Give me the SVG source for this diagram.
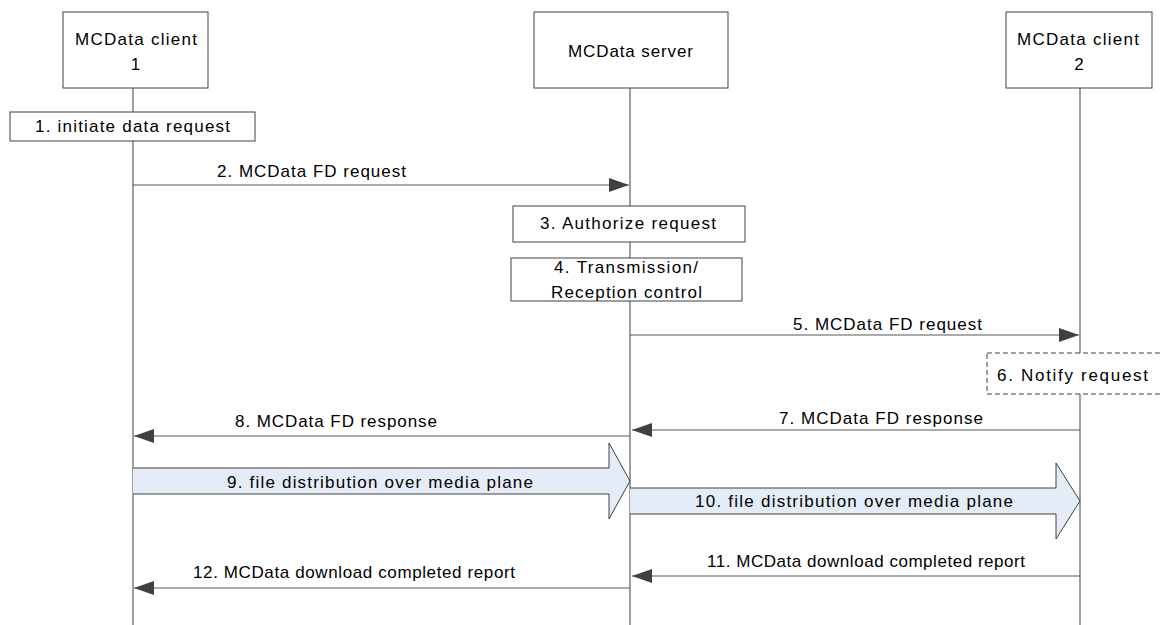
<svg xmlns="http://www.w3.org/2000/svg" width="1162" height="625" viewBox="0 0 1162 625">
<style>
text{font-family:"Liberation Sans",Arial,sans-serif;font-size:17px;fill:#000}
.box{fill:#fff;stroke:#404040;stroke-width:1}
.dbox{fill:#fff;stroke:#404040;stroke-width:1;stroke-dasharray:5,3}
.life{stroke:#7f7f7f;stroke-width:1.5;fill:none}
.msg{stroke:#595959;stroke-width:1.2;fill:none;marker-end:url(#ah)}
.blk{fill:#e4ecf7;stroke:#404040;stroke-width:1}
</style>
<defs>
<marker id="ah" markerUnits="userSpaceOnUse" markerWidth="20" markerHeight="14" refX="20" refY="7" orient="auto">
<path d="M0,0 L20,7 L0,14 z" fill="#404040"/>
</marker>
</defs>
<rect width="1162" height="625" fill="#fff"/>
<g id="lifelines">
<line class="life" x1="133" y1="88" x2="133" y2="625"/>
<line class="life" x1="630" y1="88" x2="630" y2="625"/>
<line class="life" x1="1080" y1="88" x2="1080" y2="625"/>
</g>
<g id="client1">
<rect class="box" x="63" y="12" width="145" height="76"/>
<text x="75" y="45" textLength="122" lengthAdjust="spacing">MCData client</text>
<text x="135.5" y="70" text-anchor="middle">1</text>
</g>
<g id="server">
<rect class="box" x="534" y="12" width="194" height="76"/>
<text x="568" y="57" textLength="125" lengthAdjust="spacing">MCData server</text>
</g>
<g id="client2">
<rect class="box" x="1006" y="12" width="146" height="76"/>
<text x="1017" y="45" textLength="122" lengthAdjust="spacing">MCData client</text>
<text x="1079" y="70" text-anchor="middle">2</text>
</g>
<g id="step1">
<rect class="box" x="10" y="112" width="245" height="29"/>
<text x="35" y="132" textLength="195" lengthAdjust="spacing">1. initiate data request</text>
</g>
<g id="step3">
<rect class="box" x="513" y="206" width="232" height="36"/>
<text x="540" y="229" textLength="176" lengthAdjust="spacing">3. Authorize request</text>
</g>
<g id="step4">
<rect class="box" x="511" y="258" width="231" height="43"/>
<text x="554" y="273" textLength="144" lengthAdjust="spacing">4. Transmission/</text>
<text x="551" y="298" textLength="151" lengthAdjust="spacing">Reception control</text>
</g>
<g id="step6">
<rect class="dbox" x="987" y="353" width="190" height="41"/>
<text x="997" y="381" textLength="151" lengthAdjust="spacing">6. Notify request</text>
</g>
<g id="connectors">
<line class="msg" x1="133" y1="185" x2="629" y2="185"/>
<text x="217" y="177" textLength="189" lengthAdjust="spacing">2. MCData FD request</text>
<line class="msg" x1="630" y1="335" x2="1079" y2="335"/>
<text x="793" y="330" textLength="189" lengthAdjust="spacing">5. MCData FD request</text>
<line class="msg" x1="1080" y1="430" x2="632" y2="430"/>
<text x="779" y="424" textLength="204" lengthAdjust="spacing">7. MCData FD response</text>
<line class="msg" x1="630" y1="436" x2="134" y2="436"/>
<text x="235" y="427" textLength="202" lengthAdjust="spacing">8. MCData FD response</text>
<path class="blk" d="M133,468 L609,468 L609,443 L630,481 L609,519 L609,494 L133,494"/>
<text x="227" y="488" textLength="306" lengthAdjust="spacing">9. file distribution over media plane</text>
<path class="blk" d="M630,488 L1056,488 L1056,463 L1080,501 L1056,539 L1056,514 L630,514"/>
<text x="695" y="507" textLength="318" lengthAdjust="spacing">10. file distribution over media plane</text>
<line class="msg" x1="1080" y1="576" x2="632" y2="576"/>
<text x="707" y="567" textLength="318" lengthAdjust="spacing">11. MCData download completed report</text>
<line class="msg" x1="630" y1="588" x2="134" y2="588"/>
<text x="193" y="578" textLength="322" lengthAdjust="spacing">12. MCData download completed report</text>
</g>
</svg>
